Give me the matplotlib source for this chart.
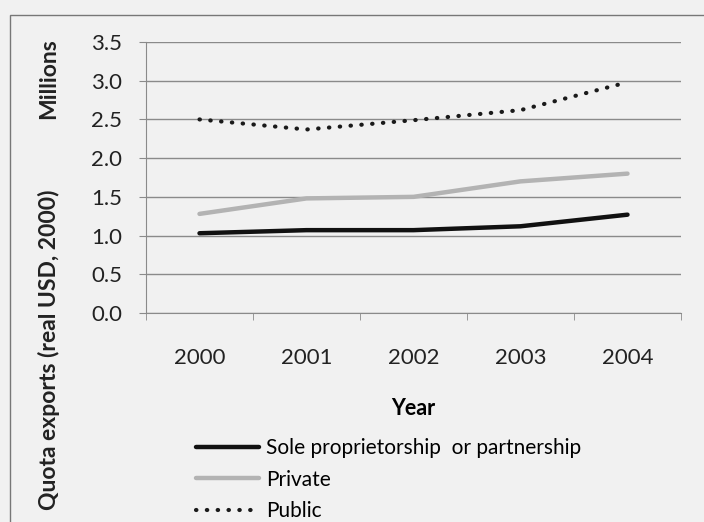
import matplotlib.pyplot as plt
from matplotlib.patches import Rectangle

years = ["2000", "2001", "2002", "2003", "2004"]
sole = [1.03, 1.07, 1.07, 1.12, 1.27]
private = [1.28, 1.48, 1.50, 1.70, 1.80]
public = [2.50, 2.37, 2.49, 2.62, 2.98]
y_ticks = [0.0, 0.5, 1.0, 1.5, 2.0, 2.5, 3.0, 3.5]

plt.rcParams["font.family"] = ["Lato", "DejaVu Sans"]
bg = "#f1f1f1"
grid_col = "#8a8a8a"

fig = plt.figure(figsize=(7.04, 5.22), dpi=100, facecolor=bg)
ax = fig.add_axes([146 / 704, 1 - 313 / 522, 535 / 704, 271 / 522])
ax.set_facecolor(bg)

x = list(range(len(years)))
ax.plot(x, sole, color="#111111", lw=3.2, solid_capstyle="round",
        label="Sole proprietorship  or partnership")
ax.plot(x, private, color="#b3b3b3", lw=3.2, solid_capstyle="round",
        label="Private")
ax.plot(x, public, color="#1a1a1a", lw=3.0, linestyle=(0, (0.1, 2.5)),
        dash_capstyle="round", label="Public")

ax.set_xlim(-0.5, len(years) - 0.5)
ax.set_ylim(0, 3.5)
ax.set_yticks(y_ticks)
ax.set_yticklabels([f"{v:.1f}" for v in y_ticks], fontsize=16, color="#222222")
ax.yaxis.grid(True, color=grid_col, lw=1)
ax.set_axisbelow(True)

ax.set_xticks(x)
ax.set_xticklabels(years, fontsize=16, color="#222222")
ax.set_xticks([i - 0.5 for i in range(len(years) + 1)], minor=True)
ax.tick_params(axis="x", which="major", length=0, pad=25)
ax.tick_params(axis="x", which="minor", length=5, color=grid_col, direction="out")
ax.tick_params(axis="y", length=5, color=grid_col, pad=12)

for side in ["top", "right"]:
    ax.spines[side].set_visible(False)
for side in ["left", "bottom"]:
    ax.spines[side].set_color(grid_col)

ax.set_xlabel("Year", fontsize=15.5, fontweight="bold", labelpad=22)

fig.text(49 / 704, 1 - 350 / 522, "Quota exports (real USD, 2000)", rotation=90,
         fontsize=16.5, fontweight="bold", ha="center", va="center", color="#222222")
fig.text(49 / 704, 1 - 79 / 522, "Millions", rotation=90,
         fontsize=16.5, fontweight="bold", ha="center", va="center", color="#222222")

leg = fig.legend(loc="upper left", bbox_to_anchor=(188 / 704, 1 - 430 / 522),
                 frameon=False, fontsize=15, handlelength=3.0, handletextpad=0.35,
                 labelspacing=0.55, borderaxespad=0)

fig.patches.append(Rectangle((10 / 704, -0.05), 1.0, 1 - 15 / 522 + 0.05,
                             transform=fig.transFigure, fill=False,
                             edgecolor="#777777", lw=1))

fig.savefig("out.png", dpi=100, facecolor=bg)
